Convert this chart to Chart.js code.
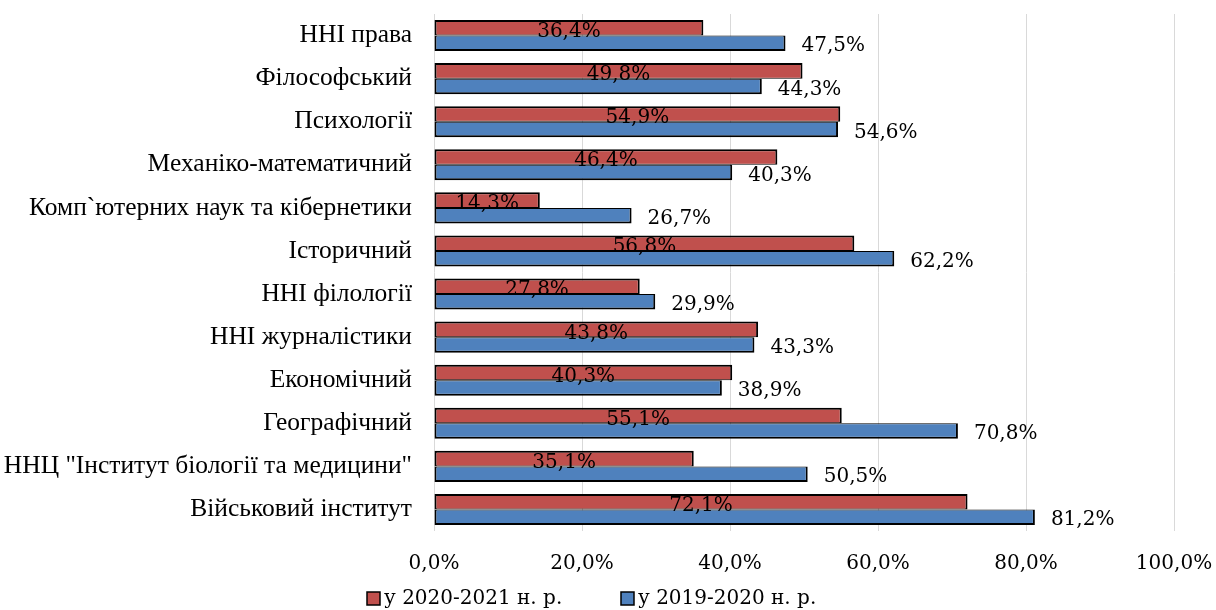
<!DOCTYPE html>
<html>
<head>
<meta charset="utf-8">
<script src="https://cdn.jsdelivr.net/npm/chart.js@4.4.1/dist/chart.umd.min.js"></script>
<style>
  html, body { margin: 0; padding: 0; background: #fff; }
  #wrap { width: 1216px; height: 610px; }
</style>
</head>
<body>
<div id="wrap"><canvas id="c" width="1216" height="610"></canvas></div>
<script>
const categories = [
  'ННІ права',
  'Філософський',
  'Психології',
  'Механіко-математичний',
  'Комп`ютерних наук та кібернетики',
  'Історичний',
  'ННІ філології',
  'ННІ журналістики',
  'Економічний',
  'Географічний',
  'ННЦ "Інститут біології та медицини"',
  'Військовий інститут'
];
const values2021 = [36.4, 49.8, 54.9, 46.4, 14.3, 56.8, 27.8, 43.8, 40.3, 55.1, 35.1, 72.1];
const values2020 = [47.5, 44.3, 54.6, 40.3, 26.7, 62.2, 29.9, 43.3, 38.9, 70.8, 50.5, 81.2];
const seriesLabels = ['у 2020-2021 н. р.', 'у 2019-2020 н. р.'];
const tickLabels = ['0,0%', '20,0%', '40,0%', '60,0%', '80,0%', '100,0%'];

const RED = '#C0504D';
const BLUE = '#4F81BD';
const NUM_FONT = '20px "DejaVu Serif"';
const fmt = v => v.toFixed(1).replace('.', ',') + '%';

const labelPlugin = {
  id: 'valueLabels',
  afterDatasetsDraw(chart) {
    const ctx = chart.ctx;
    ctx.save();
    ctx.font = NUM_FONT;
    ctx.fillStyle = '#000';
    ctx.textBaseline = 'middle';
    const m0 = chart.getDatasetMeta(0);
    m0.data.forEach((bar, i) => {
      const p = bar.getProps(['x', 'y', 'base'], true);
      ctx.textAlign = 'center';
      ctx.fillText(fmt(chart.data.datasets[0].data[i]), (p.x + p.base) / 2, p.y + 4);
    });
    const m1 = chart.getDatasetMeta(1);
    m1.data.forEach((bar, i) => {
      const p = bar.getProps(['x', 'y', 'base'], true);
      ctx.textAlign = 'left';
      ctx.fillText(fmt(chart.data.datasets[1].data[i]), p.x + 16, p.y + 3);
    });
    ctx.restore();
  }
};

const legendPlugin = {
  id: 'bottomLegend',
  afterDraw(chart) {
    const ctx = chart.ctx;
    const xs = [367, 621];
    const cy = 598;
    ctx.save();
    ctx.font = NUM_FONT;
    ctx.textBaseline = 'middle';
    ctx.textAlign = 'left';
    chart.data.datasets.forEach((ds, i) => {
      const x = xs[i];
      ctx.fillStyle = ds.backgroundColor;
      ctx.fillRect(x, cy - 6, 13, 13);
      ctx.lineWidth = 1.5;
      ctx.strokeStyle = '#000';
      ctx.strokeRect(x, cy - 6, 13, 13);
      ctx.fillStyle = '#000';
      ctx.fillText(ds.label, x + 17, cy + 1);
    });
    ctx.restore();
  }
};

new Chart(document.getElementById('c'), {
  type: 'bar',
  data: {
    labels: categories,
    datasets: [
      {
        label: seriesLabels[0],
        data: values2021,
        backgroundColor: RED,
        borderColor: '#000',
        borderWidth: { top: 2, left: 2, right: 2, bottom: 1 },
        borderSkipped: false,
        categoryPercentage: 0.72,
        barPercentage: 1
      },
      {
        label: seriesLabels[1],
        data: values2020,
        backgroundColor: BLUE,
        borderColor: '#000',
        borderWidth: { top: 1, left: 2, right: 2, bottom: 2 },
        borderSkipped: false,
        categoryPercentage: 0.72,
        barPercentage: 1
      }
    ]
  },
  options: {
    indexAxis: 'y',
    responsive: false,
    animation: false,
    layout: { padding: { left: 0, right: 42, top: 14, bottom: 24 } },
    plugins: {
      legend: { display: false },
      tooltip: { enabled: false }
    },
    scales: {
      x: {
        type: 'linear',
        min: 0,
        max: 100,
        ticks: {
          stepSize: 20,
          callback: (v, i) => tickLabels[i],
          font: { family: 'DejaVu Serif', size: 20 },
          color: '#000',
          padding: 21,
          maxRotation: 0
        },
        grid: { color: '#d9d9d9', lineWidth: 1, drawTicks: false },
        border: { display: false },
        afterFit: s => { s.height = 55; s.paddingLeft = 0; s.paddingRight = 0; }
      },
      y: {
        ticks: {
          font: { family: 'Liberation Serif', size: 25.5 },
          color: '#000',
          padding: 22
        },
        grid: { display: false, drawTicks: false },
        border: { display: false },
        afterFit: s => { s.width = 434; s.paddingTop = 0; s.paddingBottom = 0; }
      }
    }
  },
  plugins: [labelPlugin, legendPlugin]
});
</script>
</body>
</html>
